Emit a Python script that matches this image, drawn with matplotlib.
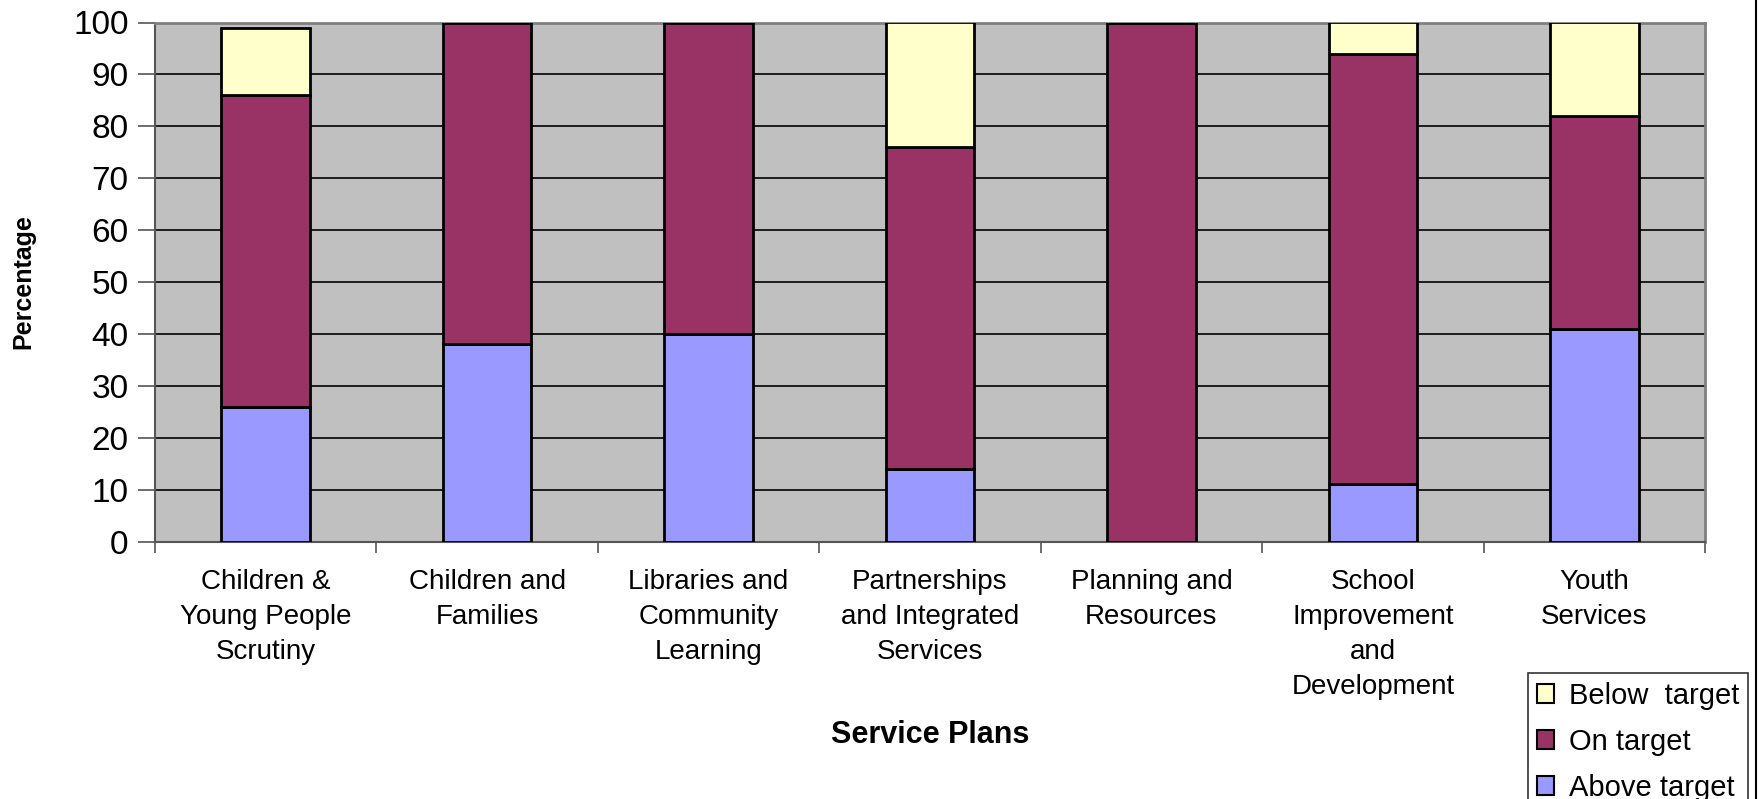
import numpy as np
from matplotlib import pyplot as plt
from matplotlib.lines import Line2D

plans = ["Children &\nYoung People\nScrutiny", "Children and\nFamilies",
         "Libraries and\nCommunity\nLearning", "Partnerships\nand Integrated\nServices",
         "Planning and\nResources", "School\nImprovement\nand\nDevelopment",
         "Youth\nServices"]
above = [26, 38, 40, 14, 0, 11, 41]
on = [60, 62, 60, 62, 100, 83, 41]
below = [13, 0, 0, 24, 0, 6, 18]

plt.rcParams['font.family'] = ['Liberation Sans', 'DejaVu Sans']

fig = plt.figure(figsize=(17.62, 7.99), dpi=100)
ax = fig.add_axes([155/1762, 1 - 541.6/799, (1705-155)/1762, (541.6-22.5)/799])
ax.set_facecolor('#C0C0C0')

x = np.arange(len(plans))
w = 0.4
above = np.array(above)
on = np.array(on)
below = np.array(below)
b_above = ax.bar(x, above, w, color='#9999FF', edgecolor='black', linewidth=2, zorder=3)
b_on = ax.bar(x, on, w, bottom=above, color='#993366', edgecolor='black', linewidth=2, zorder=3)
b_below = ax.bar(x, below, w, bottom=above + on, color='#FFFFCC', edgecolor='black', linewidth=2, zorder=3)

ax.set_xlim(-0.5, len(plans) - 0.5)
ax.set_ylim(0, 100)
ax.set_yticks(range(0, 101, 10))
ax.yaxis.grid(True, color='black', linewidth=1.2, zorder=0)
ax.set_axisbelow(True)
ax.tick_params(axis='y', labelsize=24, length=12, width=1.2, color='#555555', pad=7)

ax.set_xticks(x)
ax.set_xticklabels(plans, fontsize=20, linespacing=1.45)
ax.tick_params(axis='x', length=0, pad=20)
ax.set_xticks(np.arange(-0.5, len(plans), 1), minor=True)
ax.tick_params(axis='x', which='minor', length=8, width=1.2, color='#555555')

for s in ['top', 'right']:
    ax.spines[s].set_color('#808080')
    ax.spines[s].set_linewidth(2)
ax.spines['left'].set_color('#555555')
ax.spines['bottom'].set_color('#555555')
ax.spines['left'].set_linewidth(1.5)
ax.spines['bottom'].set_linewidth(1.5)

ax.set_xlabel("Service Plans", fontsize=22, fontweight='bold')
ax.set_ylabel("Percentage", fontsize=18, fontweight='bold')
ax.xaxis.set_label_coords(0.5, -0.343)
ax.yaxis.set_label_coords(-0.077, 0.5)

leg = fig.legend([b_below, b_on, b_above], ["Below  target", "On target", "Above target"],
                 loc='upper left', bbox_to_anchor=(1528/1762, 1 - 673/799),
                 fontsize=21, frameon=True, fancybox=False, edgecolor='black',
                 handlelength=0.6, handleheight=0.6, handletextpad=0.5,
                 labelspacing=0.62, borderpad=0.3, borderaxespad=0)
leg.get_frame().set_linewidth(1.2)
for h in leg.legend_handles:
    h.set_linewidth(1.5)

fig.add_artist(Line2D([1756/1762, 1756/1762], [0, 1], color='black', linewidth=1.5))

fig.savefig('out.png', dpi=100)
